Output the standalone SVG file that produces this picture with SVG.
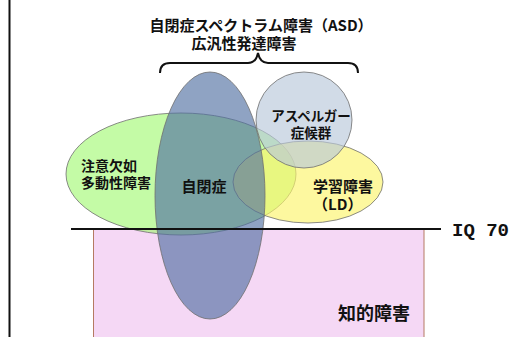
<svg xmlns="http://www.w3.org/2000/svg" width="513" height="337" viewBox="0 0 513 337">
<style>
.jp{font-family:"Noto Sans CJK JP","Noto Sans",sans-serif;font-weight:bold;fill:#111}
.sh{stroke:#6f6f6f;stroke-width:1;stroke-opacity:0.8}
</style>
<rect width="513" height="337" fill="#ffffff"/>
<line x1="9.5" y1="0" x2="9.5" y2="337" stroke="#111" stroke-width="2"/>
<g id="id-disability">
<rect x="93.5" y="229" width="330.5" height="120" fill="#f5d8f5" stroke="#b57a62" stroke-width="1"/>
<text class="jp" x="338" y="320" font-size="18">知的障害</text>
</g>
<g id="adhd">
<ellipse class="sh" cx="181" cy="174" rx="115" ry="61" fill="#9cf86a" fill-opacity="0.6"/>
</g>
<g id="ld">
<ellipse class="sh" cx="308" cy="182" rx="75" ry="41" fill="#fcf46b" fill-opacity="0.65"/>
</g>
<g id="autism">
<ellipse class="sh" cx="210" cy="195.5" rx="55" ry="123.5" fill="#506fa1" fill-opacity="0.64"/>
</g>
<g id="asperger">
<circle class="sh" cx="304" cy="120" r="48" fill="#b8c8da" fill-opacity="0.65"/>
</g>
<g id="labels">
<text class="jp" x="81" y="171" font-size="14">注意欠如</text>
<text class="jp" x="81" y="188" font-size="14">多動性障害</text>
<text class="jp" x="204" y="192" font-size="15" text-anchor="middle">自閉症</text>
<text class="jp" x="311" y="121" font-size="13.5" text-anchor="middle">アスペルガー</text>
<text class="jp" x="311" y="138" font-size="13.5" text-anchor="middle">症候群</text>
<text class="jp" x="313" y="192" font-size="15">学習障害</text>
<text class="jp" x="313" y="210" font-size="15">（LD）</text>
</g>
<g id="connectors">
<line x1="71" y1="229" x2="441" y2="229" stroke="#111" stroke-width="2.2"/>
<path d="M160,73 Q160,63 170,63 L248,63 Q256,63 258,53 Q260,63 268,63 L348,63 Q358,63 358,73" fill="none" stroke="#111" stroke-width="2"/>
</g>
<g id="iq70">
<text x="452" y="236" font-family="Liberation Mono, monospace" font-weight="bold" font-size="19" fill="#111">IQ 70</text>
</g>
<g id="asd-title">
<text class="jp" x="261" y="31" font-size="15" text-anchor="middle">自閉症スペクトラム障害（ASD）</text>
<text class="jp" x="244" y="49" font-size="15" text-anchor="middle">広汎性発達障害</text>
</g>
</svg>
